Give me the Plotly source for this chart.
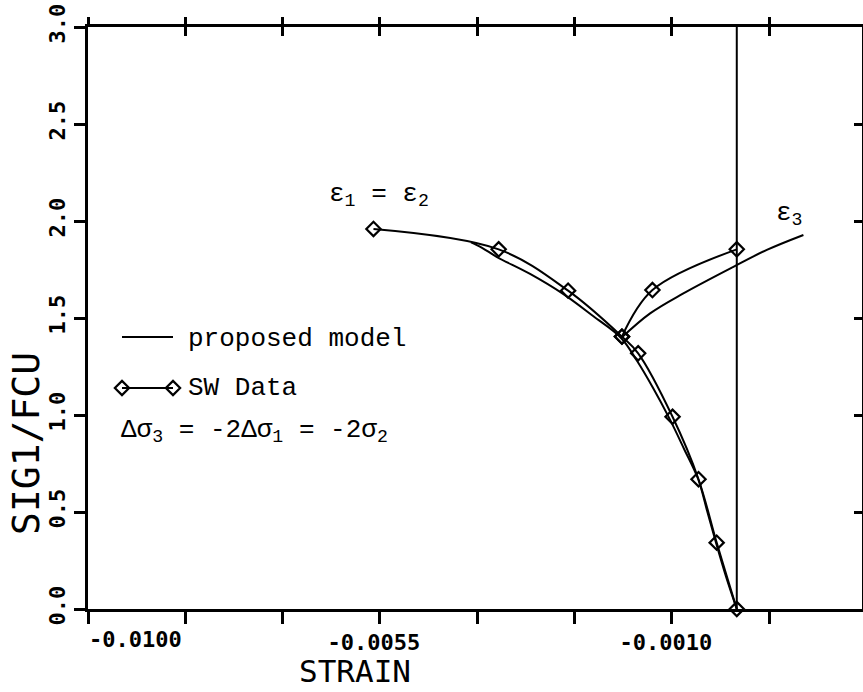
import plotly.graph_objects as go

# ---------------- data ----------------
# SW Data, branch eps1 = eps2 (strain, SIG1/FCU)
sw_strain_12 = [0.0, -0.00031, -0.00059, -0.00099, -0.00152, -0.00177, -0.00260, -0.00367, -0.00560]
sw_sig_12 = [0.0, 0.342, 0.669, 0.991, 1.318, 1.404, 1.641, 1.854, 1.959]
# SW Data, branch eps3
sw_strain_3 = [-0.00177, -0.00130, 0.0]
sw_sig_3 = [1.404, 1.644, 1.854]
# proposed model, branch eps1 = eps2
model_strain_12 = [0.0, -0.000164, -0.000319, -0.000457, -0.000596, -0.000812, -0.001043,
                   -0.001290, -0.001536, -0.001783, -0.002215, -0.002677, -0.003186,
                   -0.003695, -0.003926, -0.004096]
model_sig_12 = [0.0, 0.165, 0.340, 0.505, 0.670, 0.825, 0.985, 1.139, 1.278, 1.397,
                1.510, 1.624, 1.727, 1.814, 1.862, 1.890]
# proposed model, branch eps3
model_strain_3 = [-0.001783, -0.001336, -0.000823, -0.000052, 0.000463, 0.001027]
model_sig_3 = [1.397, 1.524, 1.627, 1.764, 1.851, 1.928]
# zero-strain line
zero_strain = [0.0, 0.0]
zero_sig = [0.0, 3.0]

# axis ticks
x_tick_vals = [-0.0100, -0.0085, -0.0070, -0.0055, -0.0040, -0.0025, -0.0010, 0.0005]
x_tick_text = ["", "", "", "-0.0055", "", "", "-0.0010", ""]
first_x_label = "-0.0100"
y_tick_vals = [0.0, 0.5, 1.0, 1.5, 2.0, 2.5, 3.0]
y_tick_text = ["0.0", "0.5", "1.0", "1.5", "2.0", "2.5", "3.0"]

# ---------------- layout constants ----------------
W, H = 863, 692
PL, PR, PT, PB = 88, 862, 27, 609          # plot area in pixels
X_RANGE = [-0.0100, 0.00193]
Y_RANGE = [0.0, 3.0]
LINE_W = 2
AX_W = 2.5
TICK_W = 2.5
TICK_FONT = dict(family="DejaVu Sans Mono", size=22, color="black", weight="bold")
TEXT_FONT = dict(family="Courier New, Liberation Mono, monospace", size=26, color="black")
TITLE_FONT_X = dict(family="DejaVu Sans Mono", size=31, color="black")
TITLE_FONT_Y = dict(family="DejaVu Sans Mono", size=38, color="black")


def fx(px):
    return (px - PL) / (PR - PL)


def fy(py):
    return (PB - py) / (PB - PT)


fig = go.Figure()

line_style = dict(color="black", width=LINE_W)
marker_style = dict(symbol="diamond-open", size=11, color="black", line=dict(color="black", width=2.2))

fig.add_trace(go.Scatter(x=zero_strain, y=zero_sig, mode="lines", line=line_style,
                         showlegend=False, hoverinfo="skip"))
fig.add_trace(go.Scatter(x=model_strain_12, y=model_sig_12, mode="lines",
                         line=dict(color="black", width=LINE_W, shape="spline", smoothing=1),
                         name="proposed model", showlegend=False))
fig.add_trace(go.Scatter(x=model_strain_3, y=model_sig_3, mode="lines",
                         line=dict(color="black", width=LINE_W, shape="spline", smoothing=1),
                         name="proposed model", showlegend=False))
fig.add_trace(go.Scatter(x=sw_strain_12, y=sw_sig_12, mode="lines+markers",
                         line=dict(color="black", width=LINE_W, shape="spline", smoothing=1),
                         marker=marker_style, name="SW Data", showlegend=False, cliponaxis=False))
fig.add_trace(go.Scatter(x=sw_strain_3, y=sw_sig_3, mode="lines+markers",
                         line=dict(color="black", width=LINE_W, shape="spline", smoothing=1),
                         marker=marker_style, name="SW Data", showlegend=False, cliponaxis=False))

# empty traces so the extra tick axes are created
fig.add_trace(go.Scatter(x=[], y=[], xaxis="x2", yaxis="y", showlegend=False))
fig.add_trace(go.Scatter(x=[], y=[], xaxis="x3", yaxis="y", showlegend=False))
fig.add_trace(go.Scatter(x=[], y=[], xaxis="x", yaxis="y2", showlegend=False))

# legend keys drawn on a pixel-unit overlay axis pair (x4/y4)
LEG_LINE_X = [122, 173]
LEG_LINE1_Y = [337, 337]
LEG_LINE2_Y = [388, 388]
fig.add_trace(go.Scatter(x=LEG_LINE_X, y=LEG_LINE1_Y, xaxis="x4", yaxis="y4", mode="lines",
                         line=line_style, showlegend=False, hoverinfo="skip"))
fig.add_trace(go.Scatter(x=LEG_LINE_X, y=LEG_LINE2_Y, xaxis="x4", yaxis="y4", mode="lines+markers",
                         line=line_style, marker=marker_style, showlegend=False, hoverinfo="skip",
                         cliponaxis=False))


def note(px, py, text, font, xanchor="left", **kw):
    return dict(xref="paper", yref="paper", x=fx(px), y=fy(py), text=text, showarrow=False,
                xanchor=xanchor, yanchor="middle", font=font, **kw)


annotations = [
    note(186, 339, "proposed model", TEXT_FONT),
    note(186, 388, "SW Data", TEXT_FONT),
    note(119, 431, "Δσ<sub>3</sub> = -2Δσ<sub>1</sub> = -2σ<sub>2</sub>", TEXT_FONT),
    note(327, 195, "ε<sub>1</sub> = ε<sub>2</sub>", TEXT_FONT),
    note(774, 214, "ε<sub>3</sub>", TEXT_FONT),
    # first x tick label, placed to the right of its tick as in the original
    note(PL - 1, 639, first_x_label, TICK_FONT),
    # axis titles
    note(355, 671, "STRAIN", TITLE_FONT_X, xanchor="center"),
    note(26, 444, "SIG1/FCU", TITLE_FONT_Y, xanchor="center", textangle=-90),
]

axis_common = dict(showgrid=False, zeroline=False, linecolor="black", linewidth=AX_W,
                   tickcolor="black", tickwidth=TICK_W)
tick_only = dict(showgrid=False, zeroline=False, tickcolor="black", tickwidth=TICK_W,
                 showline=False, showticklabels=False, tickmode="array")

fig.update_layout(
    width=W, height=H,
    margin=dict(l=PL, r=W - PR, t=PT, b=H - PB, pad=0),
    paper_bgcolor="white", plot_bgcolor="white",
    showlegend=False,
    xaxis=dict(range=X_RANGE, tickmode="array", tickvals=x_tick_vals, ticktext=x_tick_text,
               ticks="outside", ticklen=12, showline=True, mirror=True, tickfont=TICK_FONT,
               ticklabelshift=-6, automargin=False, **axis_common),
    yaxis=dict(range=Y_RANGE, tickmode="array", tickvals=y_tick_vals, ticktext=y_tick_text,
               ticks="outside", ticklen=11, showline=True, mirror=True, tickfont=TICK_FONT,
               tickangle=-90, automargin=False, **axis_common),
    xaxis2=dict(range=X_RANGE, overlaying="x", side="top", anchor="y", tickvals=x_tick_vals,
                ticks="outside", ticklen=9, **tick_only),
    xaxis3=dict(range=X_RANGE, overlaying="x", side="top", anchor="y", tickvals=x_tick_vals,
                ticks="inside", ticklen=9, **tick_only),
    yaxis2=dict(range=Y_RANGE, overlaying="y", side="right", anchor="x", tickvals=y_tick_vals,
                ticks="inside", ticklen=8, **tick_only),
    xaxis4=dict(range=[PL, PR], overlaying="x", anchor="y4", visible=False, fixedrange=True),
    yaxis4=dict(range=[PB, PT], overlaying="y", anchor="x4", visible=False, fixedrange=True),
    annotations=annotations,
)

fig.write_html("out.html", config={"displayModeBar": False},
               post_script="document.body.style.margin='0px';document.body.style.overflow='hidden';")
